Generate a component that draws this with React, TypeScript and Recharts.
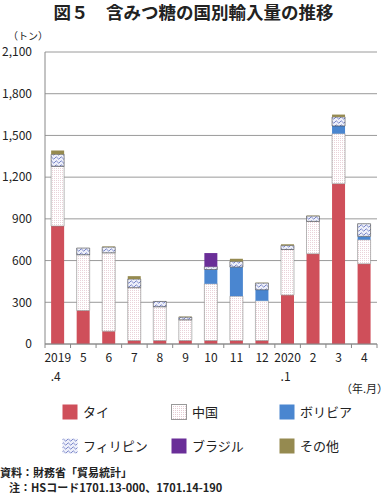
import React from "react";
import { BarChart, Bar, XAxis, YAxis, CartesianGrid } from "recharts";

const months = ["2019", "5", "6", "7", "8", "9", "10", "11", "12", "2020", "2", "3", "4"];
const subLabels = [".4", "", "", "", "", "", "", "", "", ".1", "", "", ""];
const thai = [848, 241, 92, 25, 25, 25, 25, 25, 25, 352, 649, 1153, 577];
const china = [430, 401, 564, 380, 243, 149, 408, 319, 286, 328, 233, 360, 173];
const bolivia = [0, 0, 0, 0, 0, 0, 103, 209, 79, 0, 0, 55, 24];
const philippines = [86, 48, 41, 62, 38, 19, 20, 41, 48, 29, 38, 65, 91];
const brazil = [0, 0, 0, 0, 0, 0, 98, 0, 0, 0, 0, 0, 0];
const other = [27, 0, 4, 21, 0, 4, 0, 19, 3, 8, 3, 17, 0];
const yTicks = [0, 300, 600, 900, 1200, 1500, 1800, 2100];

const seriesNames = ["タイ", "中国", "ボリビア", "フィリピン", "ブラジル", "その他"];
const seriesKeys = ["thai", "china", "bolivia", "philippines", "brazil", "other"];
const seriesFills = ["#CF4F5A", "url(#chinaPat)", "#4A86D0", "url(#philPat)", "#6A2E98", "#958A50"];
const seriesStrokes = ["none", "#8a8a8a", "none", "#444", "none", "none"];

const data = months.map((m, i) => ({
  month: m,
  sub: subLabels[i],
  thai: thai[i],
  china: china[i],
  bolivia: bolivia[i],
  philippines: philippines[i],
  brazil: brazil[i],
  other: other[i],
}));

const FONT = "'Noto Sans CJK JP', 'Noto Sans', sans-serif";

const XTick = (props: any) => {
  const { x, y, payload, index, width, visibleTicksCount } = props;
  const n = visibleTicksCount || data.length;
  const step = (width || 332) / n;
  const sub = subLabels[index] || "";
  return (
    <g>
      <line x1={x - step / 2} y1={y} x2={x - step / 2} y2={y + 4} stroke="#888" />
      {index === n - 1 && <line x1={x + step / 2} y1={y} x2={x + step / 2} y2={y + 4} stroke="#888" />}
      <text x={x} y={y + 18} textAnchor="middle" fontSize={12} fill="#222" fontFamily={FONT}>
        {payload.value}
      </text>
      {sub && (
        <text x={x - 2} y={y + 37} textAnchor="middle" fontSize={12} fill="#222" fontFamily={FONT}>
          {sub}
        </text>
      )}
    </g>
  );
};

const Swatch = ({ i }: { i: number }) => (
  <svg width={16} height={16} style={{ display: "block" }}>
    <defs>
      <pattern id={"lc" + i} width="2" height="2" patternUnits="userSpaceOnUse">
        <rect width="2" height="2" fill="#fff" />
        <rect width="1" height="1" fill="#e6cdd4" />
      </pattern>
      <pattern id={"lp" + i} width="5" height="4" patternUnits="userSpaceOnUse">
        <rect width="5" height="4" fill="#eef0fa" />
        <path d="M0 2 L1.25 0.8 L2.5 2 L3.75 3.2 L5 2" stroke="#6f7cc4" strokeWidth="0.9" fill="none" />
      </pattern>
    </defs>
    <rect
      x={0.5}
      y={0.5}
      width={15}
      height={15}
      fill={i === 1 ? `url(#lc${i})` : i === 3 ? `url(#lp${i})` : seriesFills[i]}
      stroke={i === 1 ? "#999" : "none"}
    />
  </svg>
);

const legendCols = [62, 171, 279];
const legendRows = [404, 438];

export default function App() {
  return (
    <div style={{ position: "absolute", left: 0, top: 0, width: 387, height: 494, background: "#fff", fontFamily: FONT }}>
      <div style={{ position: "absolute", left: 0, top: 2, width: 387, textAlign: "center", fontSize: 17.5, fontWeight: 700, lineHeight: "20px", color: "#222" }}>
        図５　含みつ糖の国別輸入量の推移
      </div>
      <div style={{ position: "absolute", left: 8, top: 31, fontSize: 10, color: "#222", lineHeight: "10px" }}>（トン）</div>
      <BarChart
        width={387}
        height={494}
        data={data}
        margin={{ top: 52, right: 10, left: 0, bottom: 110 }}
        barCategoryGap="24%"
        style={{ position: "absolute", left: 0, top: 0 }}
      >
        <defs>
          <pattern id="chinaPat" width="2" height="2" patternUnits="userSpaceOnUse">
            <rect width="2" height="2" fill="#fff" />
            <rect width="1" height="1" fill="#ead2d9" />
          </pattern>
          <pattern id="philPat" width="5" height="4" patternUnits="userSpaceOnUse">
            <rect width="5" height="4" fill="#eef0fa" />
            <path d="M0 2 L1.25 0.8 L2.5 2 L3.75 3.2 L5 2" stroke="#6a78c2" strokeWidth="0.9" fill="none" />
          </pattern>
        </defs>
        <CartesianGrid vertical={false} stroke="#9a9a9a" strokeWidth={1} />
        <XAxis
          dataKey="month"
          height={40}
          interval={0}
          tickLine={false}
          tickSize={0}
          tickMargin={0}
          axisLine={{ stroke: "#888" }}
          tick={<XTick />}
        />
        <YAxis
          width={45}
          domain={[0, 2100]}
          ticks={yTicks}
          interval={0}
          tickLine={false}
          tickSize={0}
          tickMargin={13}
          axisLine={{ stroke: "#888" }}
          tickFormatter={(v: number) => v.toLocaleString("en-US")}
          tick={{ fontSize: 12, fill: "#222", fontFamily: FONT }}
        />
        {seriesKeys.map((k, i) => (
          <Bar
            key={k}
            dataKey={k}
            name={seriesNames[i]}
            stackId="a"
            fill={seriesFills[i]}
            stroke={seriesStrokes[i]}
            strokeWidth={seriesStrokes[i] === "none" ? 0 : 0.6}
            isAnimationActive={false}
          />
        ))}
      </BarChart>
      <div style={{ position: "absolute", left: 341, top: 381, fontSize: 11, color: "#222", lineHeight: "15px" }}>（年.月）</div>
      {seriesNames.map((nm, i) => (
        <div
          key={nm}
          style={{
            position: "absolute",
            left: legendCols[i % 3],
            top: legendRows[Math.floor(i / 3)],
            display: "flex",
            alignItems: "center",
            height: 16,
          }}
        >
          <Swatch i={i} />
          <span style={{ marginLeft: 5, fontSize: 13, color: "#222", lineHeight: "16px" }}>{nm}</span>
        </div>
      ))}
      <div style={{ position: "absolute", left: 0, top: 465, fontSize: 11, fontWeight: 700, color: "#222", lineHeight: "15px" }}>
        資料：財務省「貿易統計」
      </div>
      <div style={{ position: "absolute", left: 9, top: 480, fontSize: 11, fontWeight: 700, color: "#222", lineHeight: "15px" }}>
        注：HSコード1701.13-000、1701.14-190
      </div>
    </div>
  );
}
